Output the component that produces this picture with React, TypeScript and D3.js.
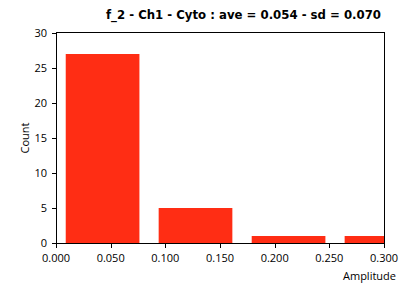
import React from "react";
import * as d3 from "d3";

const binStarts = [0.0089, 0.0939, 0.179, 0.264];
const binWidth = 0.0674;
const counts = [27, 5, 1, 1];
const xTicks = [0, 0.05, 0.1, 0.15, 0.2, 0.25, 0.3];
const yTicks = [0, 5, 10, 15, 20, 25, 30];
const title = "f_2 - Ch1 - Cyto : ave = 0.054 - sd = 0.070";

export default function App() {
  const W = 408, H = 287;
  const L = 56, R = 384, T = 33, B = 243;
  const x = d3.scaleLinear().domain([0, 0.3]).range([L, R]);
  const y = d3.scaleLinear().domain([0, 30]).range([B, T]);
  const font = "'DejaVu Sans', Verdana, sans-serif";
  const tfont = "'Open Sans', 'Liberation Sans', sans-serif";
  return (
    <svg width={W} height={H} style={{ position: "absolute", left: 0, top: 0 }}>
      <rect width={W} height={H} fill="#fff" />
      <text x={381} y={19} textAnchor="end" fontFamily={font} fontWeight="bold" fontSize={12.5} fill="#000" textLength={275} lengthAdjust="spacingAndGlyphs">{title}</text>
      <defs>
        <clipPath id="plot"><rect x={L} y={T} width={R - L} height={B - T + 1} /></clipPath>
      </defs>
      <g clipPath="url(#plot)">
        {counts.map((c, i) => (
          <rect key={i} x={x(binStarts[i])} y={y(c)} width={x(binStarts[i] + binWidth) - x(binStarts[i])} height={B - y(c)} fill="#FF2D14" />
        ))}
      </g>
      <rect x={L + 0.5} y={T - 0.5} width={R - L} height={B - T + 1} fill="none" stroke="#000" strokeWidth={1} />
      {yTicks.map((t) => (
        <g key={t}>
          <line x1={L - 4} x2={L} y1={Math.round(y(t)) + 0.5} y2={Math.round(y(t)) + 0.5} stroke="#000" />
          <text x={L - 9} y={y(t) + 4} textAnchor="end" fontFamily={tfont} fontSize={11} fill="#000">{t}</text>
        </g>
      ))}
      {xTicks.map((t) => (
        <g key={t}>
          <line x1={Math.round(x(t)) + 0.5} x2={Math.round(x(t)) + 0.5} y1={B + 1} y2={B + 5} stroke="#000" />
          <text x={x(t)} y={262} textAnchor="middle" fontFamily={tfont} fontSize={11} fill="#000">{t.toFixed(3)}</text>
        </g>
      ))}
      <text x={396} y={280} textAnchor="end" fontFamily={tfont} fontSize={11} fill="#000">Amplitude</text>
      <text transform={`translate(29,${(T + B) / 2}) rotate(-90)`} textAnchor="middle" fontFamily={tfont} fontSize={11} fill="#000">Count</text>
    </svg>
  );
}
